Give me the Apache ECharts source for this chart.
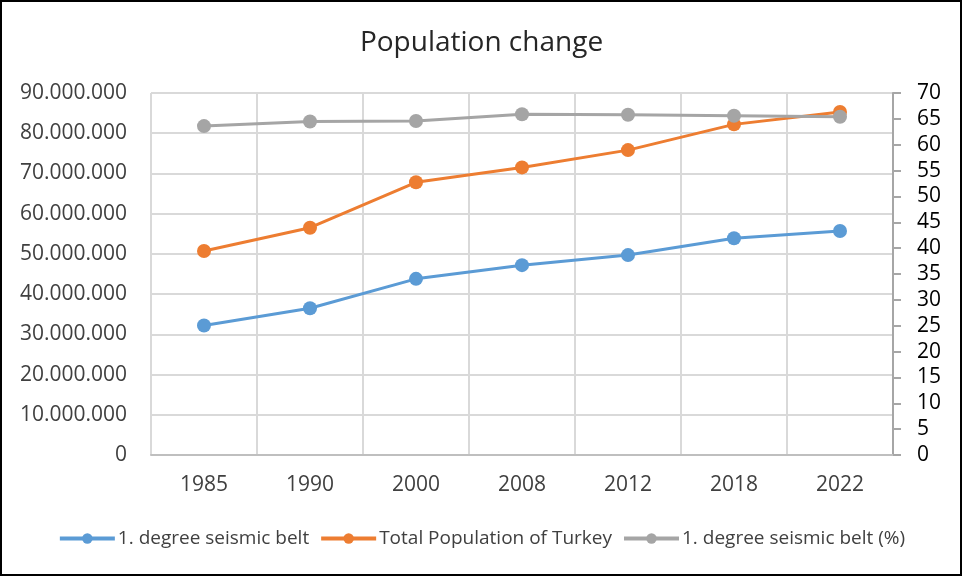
<!DOCTYPE html>
<html>
<head>
<meta charset="utf-8">
<script src="https://cdn.jsdelivr.net/npm/echarts@6/dist/echarts.min.js"></script>
<style>
html,body{margin:0;padding:0;background:#fff;}
#chart{width:963px;height:577px;}
</style>
</head>
<body>
<div id="chart"></div>
<script>
const categories = ['1985','1990','2000','2008','2012','2018','2022'];
const seismicBelt = [32200000, 36500000, 43800000, 47200000, 49700000, 53900000, 55700000];
const totalPopulation = [50700000, 56500000, 67800000, 71500000, 75800000, 82200000, 85300000];
const seismicBeltPct = [63.6, 64.5, 64.6, 65.9, 65.8, 65.6, 65.4];
const seriesNames = ['1. degree seismic belt', 'Total Population of Turkey', '1. degree seismic belt (%)'];

function fmtDots(v){
  return String(Math.round(v)).replace(/\B(?=(\d{3})+(?!\d))/g, '.');
}

const FONT = 'Open Sans';
const chart = echarts.init(document.getElementById('chart'), null, {renderer:'canvas'});
const colors = ['#5b9bd5', '#ed7d31', '#a5a5a5'];

function lineSeries(i, data, yIdx){
  return {
    name: seriesNames[i],
    type: 'line',
    yAxisIndex: yIdx,
    data: data,
    symbol: 'circle',
    symbolSize: 14,
    lineStyle: {width: 3, color: colors[i]},
    itemStyle: {color: colors[i]},
    animation: false
  };
}

chart.setOption({
  animation: false,
  title: {
    text: 'Population change',
    left: 'center',
    top: 24,
    textStyle: {fontFamily: FONT, fontSize: 28, fontWeight: 'normal', color: '#262626'}
  },
  graphic: [{
    type: 'rect',
    shape: {x: 1, y: 1, width: 960, height: 574},
    style: {fill: 'none', stroke: '#000', lineWidth: 2},
    silent: true
  }],
  legend: {
    bottom: 24,
    left: 'center',
    itemWidth: 55,
    itemHeight: 13,
    itemGap: 10,
    lineStyle: {width: 4},
    textStyle: {fontFamily: FONT, fontSize: 19, color: '#404040', padding: [0,0,0,-2]},
    data: seriesNames
  },
  grid: {left: 151, right: 70, top: 93, bottom: 122},
  xAxis: {
    type: 'category',
    data: categories,
    boundaryGap: true,
    axisLine: {show: true, lineStyle: {color: '#bfbfbf', width: 2}},
    axisTick: {show: false},
    splitLine: {show: true, lineStyle: {color: '#d9d9d9', width: 2}},
    axisLabel: {fontFamily: FONT, fontSize: 21, color: '#404040', margin: 20}
  },
  yAxis: [{
    type: 'value',
    min: 0, max: 90000000, interval: 10000000,
    axisLine: {show: false},
    axisTick: {show: false},
    splitLine: {show: true, lineStyle: {color: '#d9d9d9', width: 2}},
    axisLabel: {fontFamily: FONT, fontSize: 21, color: '#404040', margin: 24, formatter: fmtDots}
  }, {
    type: 'value',
    position: 'right',
    min: 0, max: 70, interval: 5,
    axisLine: {show: true, lineStyle: {color: '#a6a6a6', width: 2}},
    axisTick: {show: true, length: 8, lineStyle: {color: '#a6a6a6', width: 2}},
    splitLine: {show: false},
    axisLabel: {fontFamily: FONT, fontSize: 21, color: '#000', margin: 24}
  }],
  series: [
    lineSeries(0, seismicBelt, 0),
    lineSeries(1, totalPopulation, 0),
    lineSeries(2, seismicBeltPct, 1)
  ]
});
</script>
</body>
</html>
